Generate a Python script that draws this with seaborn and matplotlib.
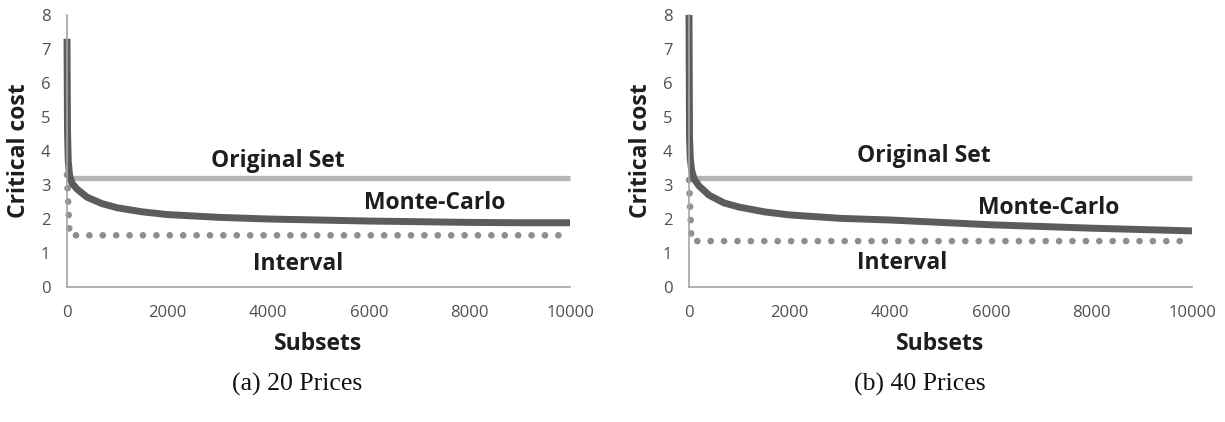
import matplotlib
matplotlib.use("Agg")
import matplotlib.pyplot as plt
import seaborn as sns
import pandas as pd

# ---------------- data ----------------
subsets = [0, 10, 25, 50, 100, 200, 400, 700, 1000, 1500, 2000, 3000,
           4000, 5000, 6000, 7000, 8000, 9000, 10000]
mc_20 = [7.3, 4.6, 3.7, 3.3, 3.05, 2.88, 2.64, 2.45, 2.33, 2.21, 2.13, 2.05,
         2.0, 1.97, 1.94, 1.92, 1.9, 1.89, 1.89]
mc_40 = [8.0, 4.4, 3.8, 3.45, 3.18, 2.97, 2.7, 2.47, 2.35, 2.21, 2.12, 2.02,
         1.97, 1.9, 1.83, 1.78, 1.73, 1.69, 1.65]

orig_x = [0, 10000]
orig_20 = [3.2, 3.2]
orig_40 = [3.2, 3.2]

interval_x = [0, 50, 10000]
interval_20 = [3.3, 1.52, 1.52]
interval_40 = [3.15, 1.35, 1.35]

xticks = [0, 2000, 4000, 6000, 8000, 10000]
yticks = [0, 1, 2, 3, 4, 5, 6, 7, 8]

captions = ["(a) 20 Prices", "(b) 40 Prices"]
# label positions (data coordinates) for each panel: (x, y)
labels_20 = {"Original Set": (4200, 3.72), "Monte-Carlo": (7300, 2.48), "Interval": (4600, 0.67)}
labels_40 = {"Original Set": (4670, 3.86), "Monte-Carlo": (7150, 2.31), "Interval": (4230, 0.70)}

# ---------------- style ----------------
sns.set_theme(style="white")
plt.rcParams["font.family"] = ["Open Sans", "DejaVu Sans"]

W, H = 1225, 422
fig = plt.figure(figsize=(W / 100, H / 100), dpi=100)

C_MC = "#5c5c5c"
C_ORIG = "#b5b5b5"
C_INT = "#8e8e8e"
C_SPINE = "#a6a6a6"
C_TICK = "#505050"
C_TEXT = "#1e1e1e"

panels = [
    (67, mc_20, orig_20, interval_20, labels_20, captions[0], 297),
    (689, mc_40, orig_40, interval_40, labels_40, captions[1], 920),
]

for left_px, mc, orig, interval, labels, cap, cap_x in panels:
    ax = fig.add_axes([left_px / W, (H - 287) / H, 503 / W, 272 / H])
    df_o = pd.DataFrame({"x": orig_x, "y": orig})
    df_i = pd.DataFrame({"x": interval_x, "y": interval})
    df_m = pd.DataFrame({"x": subsets, "y": mc})

    sns.lineplot(data=df_o, x="x", y="y", ax=ax, color=C_ORIG, linewidth=3.8,
                 solid_capstyle="butt", clip_on=False)
    sns.lineplot(data=df_i, x="x", y="y", ax=ax, color=C_INT, linewidth=4.8,
                 linestyle=(0, (0.01, 2.0)), dash_capstyle="round", clip_on=False)
    sns.lineplot(data=df_m, x="x", y="y", ax=ax, color=C_MC, linewidth=5.0,
                 solid_capstyle="butt", clip_on=False)

    ax.set_xlim(0, 10000)
    ax.set_ylim(0, 8)
    ax.set_xticks(xticks)
    ax.set_yticks(yticks)
    ax.set_xticklabels([str(t) for t in xticks])
    ax.set_yticklabels([str(t) for t in yticks])
    ax.tick_params(axis="both", length=0, labelsize=12, labelcolor=C_TICK)
    ax.tick_params(axis="x", pad=13)
    ax.tick_params(axis="y", pad=12)
    for s in ["top", "right"]:
        ax.spines[s].set_visible(False)
    for s in ["left", "bottom"]:
        ax.spines[s].set_color(C_SPINE)
        ax.spines[s].set_linewidth(1.2)
    ax.grid(False)

    ax.set_xlabel("Subsets", fontsize=16.5, fontweight="bold", color=C_TEXT)
    ax.set_ylabel("Critical cost", fontsize=16.5, fontweight="bold", color=C_TEXT)
    ax.xaxis.set_label_coords(0.5, -0.165)
    ax.yaxis.set_label_coords(-0.072, 0.5)

    for txt, (tx, ty) in labels.items():
        ax.text(tx, ty, txt, ha="center", va="center", fontsize=16.5,
                fontweight="bold", color=C_TEXT)

    fig.text(cap_x / W, (H - 384) / H, cap, ha="center", va="center",
             fontsize=18.5, family="Liberation Serif", color="#111111")

fig.savefig("out.png", dpi=100, facecolor="white")
